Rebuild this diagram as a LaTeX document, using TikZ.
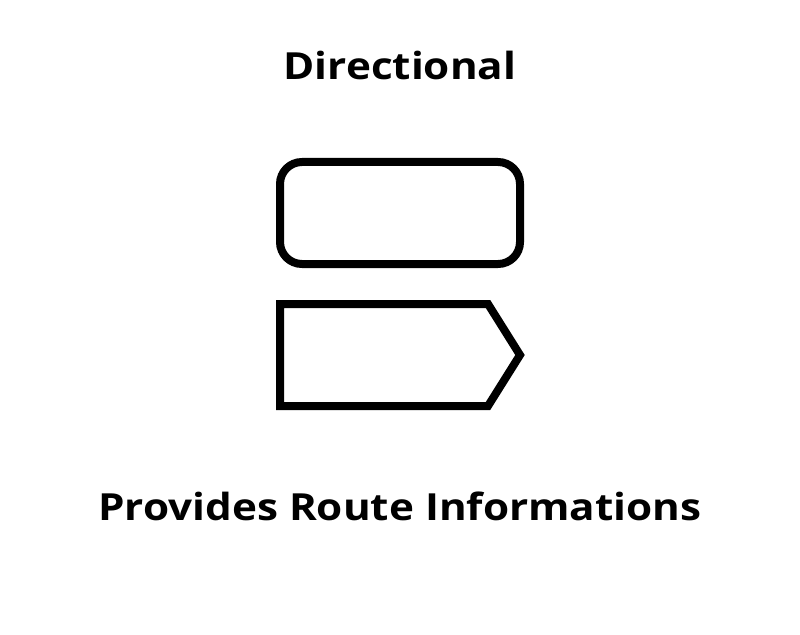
\documentclass[tikz,border=0pt]{standalone}
\usepackage{fontspec}
\setmainfont{Open Sans}[BoldFont={* Bold},BoldFeatures={FakeStretch=1.13}]
\begin{document}
\begin{tikzpicture}[x=1bp,y=-1bp,
  shapeline/.style={draw=black,line width=8bp,fill=white},
  label/.style={font=\bfseries\fontsize{37.5}{44}\selectfont,anchor=base,inner sep=0pt}]
\useasboundingbox[fill=white] (0,0) rectangle (800,635);
\node[label] (title) at (400,79.5) {Directional};
\draw[shapeline,rounded corners=22bp] (280,162) rectangle (520,264);
\draw[shapeline,line join=miter] (280,304) -- (488,304) -- (520,355) -- (488,406) -- (280,406) -- cycle;
\node[label] (caption) at (400,520) {Provides Route Informations};
\end{tikzpicture}
\end{document}
